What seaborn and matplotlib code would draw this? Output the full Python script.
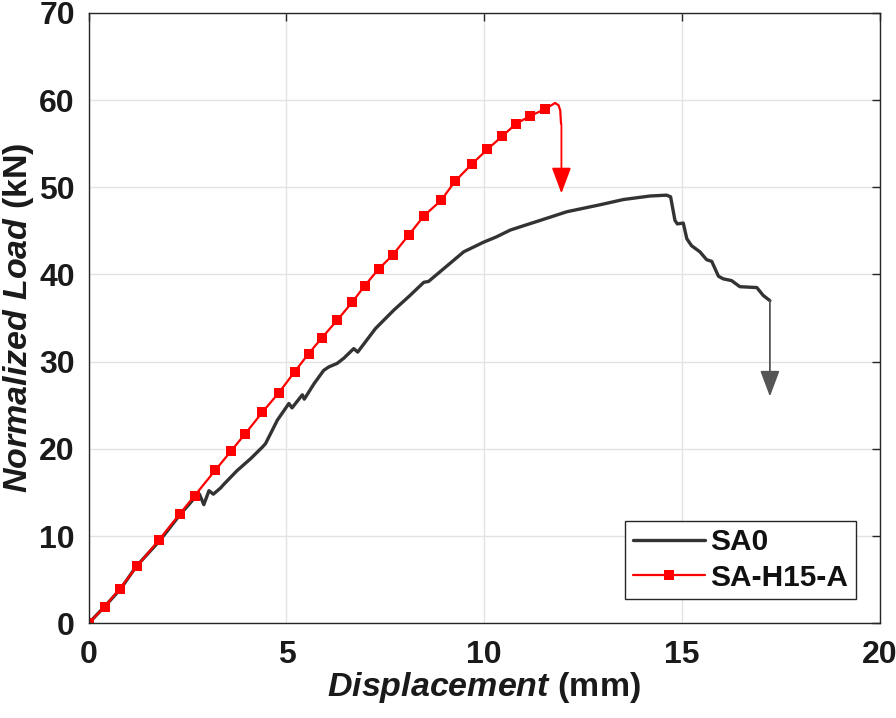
import seaborn as sns
import matplotlib.pyplot as plt
import pandas as pd

# SA0 curve (displacement mm, normalized load kN)
sa0_x = [0, 0.4, 0.8, 1.2, 1.8, 2.3, 2.7, 2.8, 2.91, 3.04, 3.15, 3.33, 3.43, 3.75, 4.1,
         4.39, 4.47, 4.77, 5.06, 5.14, 5.40, 5.45, 5.7, 5.94, 6.07, 6.28, 6.45, 6.70,
         6.80, 7.25, 7.71, 8.1, 8.47, 8.59, 9.14, 9.48, 9.98, 10.3, 10.66, 11.0, 11.41,
         12.09, 12.93, 13.52, 14.19, 14.61, 14.71, 14.82, 14.88, 15.03, 15.12, 15.24,
         15.45, 15.62, 15.75, 15.92, 16.04, 16.25, 16.46, 16.89, 17.05, 17.22]
sa0_y = [0, 1.9, 3.9, 6.5, 9.5, 12.4, 14.5, 14.8, 13.6, 15.2, 14.8, 15.5, 16.0, 17.5, 18.9,
         20.2, 20.6, 23.3, 25.2, 24.7, 26.2, 25.7, 27.5, 29.0, 29.4, 29.8, 30.4, 31.5,
         31.1, 33.8, 35.9, 37.5, 39.1, 39.2, 41.3, 42.6, 43.7, 44.3, 45.1, 45.6, 46.2,
         47.2, 48.0, 48.6, 49.0, 49.1, 48.9, 46.2, 45.8, 45.9, 44.1, 43.3,
         42.6, 41.7, 41.5, 39.8, 39.5, 39.3, 38.6, 38.5, 37.6, 37.0]

# SA-H15-A curve (marked points, then unmarked tail after the peak)
h15_x = [0, 0.40, 0.78, 1.23, 1.77, 2.31, 2.68, 3.20, 3.60, 3.96, 4.39, 4.81, 5.21, 5.56,
         5.90, 6.28, 6.66, 6.98, 7.33, 7.68, 8.09, 8.48, 8.91, 9.26, 9.68, 10.08, 10.45,
         10.81, 11.16, 11.54]
h15_y = [0, 1.87, 3.93, 6.57, 9.52, 12.58, 14.64, 17.55, 19.76, 21.75, 24.20, 26.46, 28.86,
         30.93, 32.76, 34.75, 36.81, 38.73, 40.63, 42.20, 44.53, 46.75, 48.51, 50.69, 52.64,
         54.36, 55.85, 57.31, 58.18, 58.98]
tail_x = [11.54, 11.79, 11.88, 11.92, 11.94]
tail_y = [58.98, 59.67, 59.4, 58.8, 57.3]

# failure arrows: (x, start y, end y)
red_arrow = (11.95, 57.3, 49.3)
gray_arrow = (17.22, 37.0, 26.0)

sns.set_style('whitegrid')
plt.rcParams['font.family'] = ['Liberation Sans', 'DejaVu Sans']
plt.rcParams['mathtext.fontset'] = 'custom'
plt.rcParams['mathtext.it'] = 'Liberation Sans:italic:bold'
plt.rcParams['mathtext.rm'] = 'Liberation Sans:bold'

fig = plt.figure(figsize=(8.96, 7.18), dpi=100)
ax = fig.add_axes([0.099, 0.132, 0.883, 0.850])

df_sa0 = pd.DataFrame({'x': sa0_x, 'y': sa0_y})
df_h15 = pd.DataFrame({'x': h15_x, 'y': h15_y})
df_tail = pd.DataFrame({'x': tail_x, 'y': tail_y})

sns.lineplot(data=df_sa0, x='x', y='y', ax=ax, sort=False, color='#333333',
             linewidth=2.4, label='SA0')
sns.lineplot(data=df_h15, x='x', y='y', ax=ax, sort=False, color='red',
             linewidth=1.6, marker='s', markersize=7, markeredgewidth=0,
             label='SA-H15-A')
sns.lineplot(data=df_tail, x='x', y='y', ax=ax, sort=False, color='red',
             linewidth=1.6, label='_nolegend_')

for (ax_x, y0, y1), col in [(red_arrow, 'red'), (gray_arrow, '#555555')]:
    ax.annotate('', xy=(ax_x, y1), xytext=(ax_x, y0),
                arrowprops=dict(arrowstyle='-|>,head_length=0.8,head_width=0.3',
                                color=col, lw=1.3, shrinkA=0, shrinkB=0,
                                mutation_scale=20))

ax.set_xlim(0, 20)
ax.set_ylim(0, 70)
ax.set_xticks([0, 5, 10, 15, 20])
ax.set_yticks(range(0, 71, 10))
ax.grid(True, color='#e3e3e3', linewidth=1)
for s in ax.spines.values():
    s.set_visible(True)
    s.set_color('#262626')
    s.set_linewidth(1.0)
ax.tick_params(direction='in', length=6, width=1, color='#262626',
               top=True, right=True, labelsize=23, labelcolor='#1a1a1a')
ax.tick_params(axis='y', pad=10)
ax.tick_params(axis='x', pad=12)
for lbl in ax.get_xticklabels() + ax.get_yticklabels():
    lbl.set_fontweight('bold')

ax.set_xlabel(r'$\mathit{Displacement}$ (mm)', fontsize=24.5, fontweight='bold',
              color='#1a1a1a', labelpad=0)
ax.set_ylabel(r'$\mathit{Normalized\ Load}$ (kN)', fontsize=24.5, fontweight='bold',
              color='#1a1a1a', labelpad=2)

leg = ax.legend(loc='lower right', prop={'weight': 'bold', 'size': 21.5},
                handlelength=2.4, handletextpad=0.2, borderpad=0.25,
                labelspacing=0.25, fancybox=False, framealpha=1,
                borderaxespad=0.8, edgecolor='#262626')
leg.get_frame().set_linewidth(1.0)
for t in leg.get_texts():
    t.set_color('#111111')

fig.savefig('out.png', dpi=100)
